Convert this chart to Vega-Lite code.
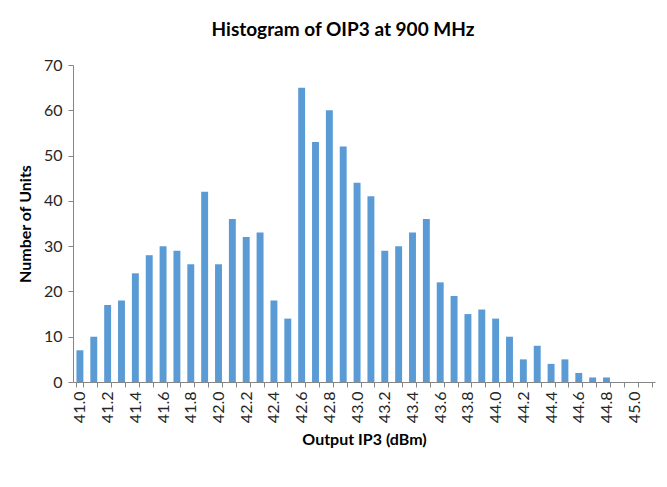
{
  "$schema": "https://vega.github.io/schema/vega-lite/v6.json",
  "autosize": "none",
  "width": 582,
  "height": 317,
  "padding": {"left": 73, "top": 65, "right": 12, "bottom": 105},
  "background": "white",
  "title": {
    "text": "Histogram of OIP3 at 900 MHz",
    "font": "Lato",
    "fontSize": 19,
    "fontWeight": "bold",
    "color": "#000000",
    "offset": 17,
    "dx": -21
  },
  "data": {
    "values": [
      {"bin": "41.0", "count": 7}, {"bin": "41.1", "count": 10}, {"bin": "41.2", "count": 17},
      {"bin": "41.3", "count": 18}, {"bin": "41.4", "count": 24}, {"bin": "41.5", "count": 28},
      {"bin": "41.6", "count": 30}, {"bin": "41.7", "count": 29}, {"bin": "41.8", "count": 26},
      {"bin": "41.9", "count": 42}, {"bin": "42.0", "count": 26}, {"bin": "42.1", "count": 36},
      {"bin": "42.2", "count": 32}, {"bin": "42.3", "count": 33}, {"bin": "42.4", "count": 18},
      {"bin": "42.5", "count": 14}, {"bin": "42.6", "count": 65}, {"bin": "42.7", "count": 53},
      {"bin": "42.8", "count": 60}, {"bin": "42.9", "count": 52}, {"bin": "43.0", "count": 44},
      {"bin": "43.1", "count": 41}, {"bin": "43.2", "count": 29}, {"bin": "43.3", "count": 30},
      {"bin": "43.4", "count": 33}, {"bin": "43.5", "count": 36}, {"bin": "43.6", "count": 22},
      {"bin": "43.7", "count": 19}, {"bin": "43.8", "count": 15}, {"bin": "43.9", "count": 16},
      {"bin": "44.0", "count": 14}, {"bin": "44.1", "count": 10}, {"bin": "44.2", "count": 5},
      {"bin": "44.3", "count": 8}, {"bin": "44.4", "count": 4}, {"bin": "44.5", "count": 5},
      {"bin": "44.6", "count": 2}, {"bin": "44.7", "count": 1}, {"bin": "44.8", "count": 1},
      {"bin": "44.9", "count": 0}, {"bin": "45.0", "count": 0}, {"bin": "45.1", "count": 0}
    ]
  },
  "mark": {"type": "bar", "color": "#5B9BD5"},
  "encoding": {
    "x": {
      "field": "bin",
      "type": "ordinal",
      "sort": null,
      "scale": {"paddingInner": 0.5, "paddingOuter": 0.25},
      "axis": {
        "title": "Output IP3 (dBm)",
        "titleFont": "Lato",
        "titleFontSize": 16,
        "titleFontWeight": "bold",
        "titleColor": "#000000",
        "titlePadding": 9,
        "labelFont": "Lato",
        "labelFontSize": 16,
        "labelColor": "#262626",
        "labelAngle": 270,
        "labelAlign": "right",
        "labelBaseline": "middle",
        "labelPadding": 4,
        "labelOverlap": false,
        "labelExpr": "round(toNumber(datum.value)*10) % 2 == 0 ? datum.value : ''",
        "tickBand": "extent",
        "tickSize": 5,
        "tickColor": "#868686",
        "domainColor": "#868686",
        "grid": false
      }
    },
    "y": {
      "field": "count",
      "type": "quantitative",
      "scale": {"domain": [0, 70]},
      "axis": {
        "title": "Number of Units",
        "titleFont": "Lato",
        "titleFontSize": 16,
        "titleFontWeight": "bold",
        "titleColor": "#000000",
        "titlePadding": 10,
        "values": [0, 10, 20, 30, 40, 50, 60, 70],
        "labelFont": "Lato",
        "labelFontSize": 16,
        "labelColor": "#262626",
        "labelPadding": 6,
        "tickSize": 5,
        "tickColor": "#868686",
        "domainColor": "#868686",
        "grid": false
      }
    }
  },
  "config": {"view": {"stroke": null}}
}
